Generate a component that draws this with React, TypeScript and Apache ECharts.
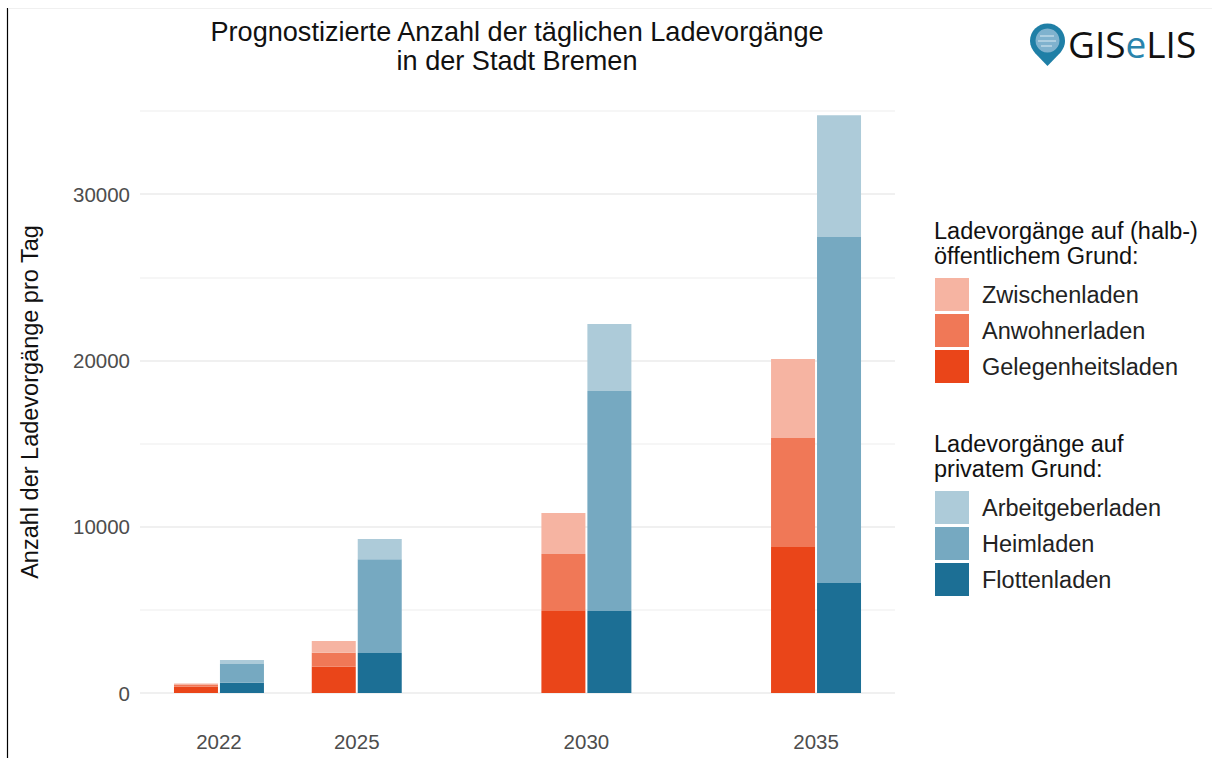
import React, { useEffect, useRef } from "react";
import * as echarts from "echarts";

const categories = ["2022", "2023", "2024", "2025", "2026", "2027", "2028", "2029", "2030", "2031", "2032", "2033", "2034", "2035"];
const years = ["2022", "2025", "2030", "2035"];
const gelegenheitsladen = [380, 1580, 4930, 8780];
const anwohnerladen = [100, 840, 3430, 6550];
const zwischenladen = [90, 710, 2460, 4750];
const flottenladen = [620, 2400, 4930, 6610];
const heimladen = [1120, 5650, 13230, 20810];
const arbeitgeberladen = [240, 1210, 4030, 7330];
const yTicks = [0, 10000, 20000, 30000];

const titleText = "Prognostizierte Anzahl der täglichen Ladevorgänge\nin der Stadt Bremen";
const yName = "Anzahl der Ladevorgänge pro Tag";
const legendPublicTitle = "Ladevorgänge auf (halb-)\nöffentlichem Grund:";
const legendPrivateTitle = "Ladevorgänge auf\nprivatem Grund:";

const FONT = "'Liberation Sans', Arial, sans-serif";

echarts.graphic.registerShape(
  "gisPin",
  echarts.graphic.extendPath(
    "M17.5 0 C27.2 0 35 7.7 35 17.2 C35 22.5 32.6 26.5 29.6 30 L17.5 42.5 L5.4 30 C2.4 26.5 0 22.5 0 17.2 C0 7.7 7.8 0 17.5 0 Z",
    {}
  ) as any
);

function bar(name: string, stack: string, values: number[], color: string) {
  return {
    name,
    type: "bar",
    stack,
    xAxisIndex: 1,
    yAxisIndex: 1,
    barWidth: 44,
    barGap: "4.5%",
    clip: false,
    itemStyle: { color },
    emphasis: { disabled: true },
    data: years.map((y, i) => [y, values[i]]),
  };
}

function legend(names: string[], top: number) {
  return {
    orient: "vertical",
    left: 935,
    top,
    itemWidth: 34,
    itemHeight: 33,
    itemGap: 3,
    icon: "rect",
    selectedMode: false,
    data: names,
    padding: 0,
    textStyle: {
      fontFamily: FONT,
      fontSize: 23.5,
      color: "#222222",
      padding: [0, 0, 0, 8],
    },
  };
}

export default function App() {
  const ref = useRef<HTMLDivElement>(null);
  useEffect(() => {
    const chart = echarts.init(ref.current!, undefined, { renderer: "svg" });
    chart.setOption({
      animation: false,
      backgroundColor: "#ffffff",
      grid: [
        { left: 140, right: 317, top: 111, bottom: 65 },
        { left: 196, right: 373, top: 111, bottom: 65 },
      ],
      xAxis: [
        { gridIndex: 0, type: "value", show: false, min: 0, max: 1 },
        {
          gridIndex: 1,
          type: "category",
          data: categories,
          axisLine: { show: false },
          axisTick: { show: false },
          splitLine: { show: false },
          axisLabel: {
            interval: (_: number, v: string) => years.includes(v),
            fontFamily: FONT,
            fontSize: 20.5,
            color: "#4d4d4d",
            margin: 38,
          },
        },
      ],
      yAxis: [
        {
          gridIndex: 0,
          type: "value",
          min: 0,
          max: 35000,
          interval: 5000,
          name: yName,
          nameLocation: "middle",
          nameGap: 98,
          nameRotate: 90,
          nameTextStyle: { fontFamily: FONT, fontSize: 23.5, color: "#111111" },
          axisLine: { show: false },
          axisTick: { show: false },
          axisLabel: {
            customValues: yTicks,
            fontFamily: FONT,
            fontSize: 20.5,
            color: "#4d4d4d",
            margin: 10,
            formatter: (v: number) => String(v),
          },
          splitLine: {
            show: true,
            lineStyle: { color: ["#ebebeb", "#f3f3f3"], width: 1.5 },
          },
        },
        { gridIndex: 1, type: "value", show: false, min: 0, max: 35000, interval: 5000, splitLine: { show: false } },
      ],
      legend: [
        legend(["Zwischenladen", "Anwohnerladen", "Gelegenheitsladen"], 278),
        legend(["Arbeitgeberladen", "Heimladen", "Flottenladen"], 491),
      ],
      series: [
        bar("Gelegenheitsladen", "public", gelegenheitsladen, "#EA4519"),
        bar("Anwohnerladen", "public", anwohnerladen, "#F07857"),
        bar("Zwischenladen", "public", zwischenladen, "#F6B4A2"),
        bar("Flottenladen", "private", flottenladen, "#1C6F95"),
        bar("Heimladen", "private", heimladen, "#76A9C1"),
        bar("Arbeitgeberladen", "private", arbeitgeberladen, "#ADCBD9"),
      ],
      graphic: [
        { type: "line", silent: true, shape: { x1: 7.5, y1: 8, x2: 7.5, y2: 758 }, style: { stroke: "#000000", lineWidth: 1.2 } },
        { type: "line", silent: true, shape: { x1: 8, y1: 8.5, x2: 1212, y2: 8.5 }, style: { stroke: "#f0f0f0", lineWidth: 1 } },
        {
          type: "text",
          x: 517,
          y: 17,
          style: {
            text: titleText,
            fontFamily: FONT,
            fontSize: 27.1,
            lineHeight: 29,
            fill: "#111111",
            align: "center",
          },
        },
        {
          type: "text",
          x: 934,
          y: 218,
          style: { text: legendPublicTitle, fontFamily: FONT, fontSize: 23.5, lineHeight: 25, fill: "#111111" },
        },
        {
          type: "text",
          x: 934,
          y: 431,
          style: { text: legendPrivateTitle, fontFamily: FONT, fontSize: 23.5, lineHeight: 25, fill: "#111111" },
        },
        { type: "gisPin", x: 1030, y: 23.5, style: { fill: "#1F7FA6" } },
        { type: "circle", shape: { cx: 1047.5, cy: 40.5, r: 12 }, style: { fill: "#7FB2CE" } },
        { type: "line", shape: { x1: 1040, y1: 36, x2: 1054, y2: 36 }, style: { stroke: "#dcebf3", lineWidth: 1 } },
        { type: "line", shape: { x1: 1038, y1: 41, x2: 1056, y2: 41 }, style: { stroke: "#dcebf3", lineWidth: 1 } },
        { type: "line", shape: { x1: 1041, y1: 46, x2: 1052, y2: 46 }, style: { stroke: "#dcebf3", lineWidth: 1 } },
        {
          type: "text",
          x: 1068,
          y: 25,
          style: {
            text: "{a|GIS}{b|e}{a|LIS}",
            rich: {
              a: { fontFamily: "'Open Sans', 'Noto Sans', sans-serif", fontSize: 37, fill: "#111111" },
              b: { fontFamily: "'Open Sans', 'Noto Sans', sans-serif", fontSize: 37, fill: "#2A84AC" },
            },
          },
        },
      ],
    });
    return () => chart.dispose();
  }, []);
  return (
    <div
      ref={ref}
      style={{ position: "absolute", left: 0, top: 0, width: 1212, height: 758 }}
    />
  );
}
